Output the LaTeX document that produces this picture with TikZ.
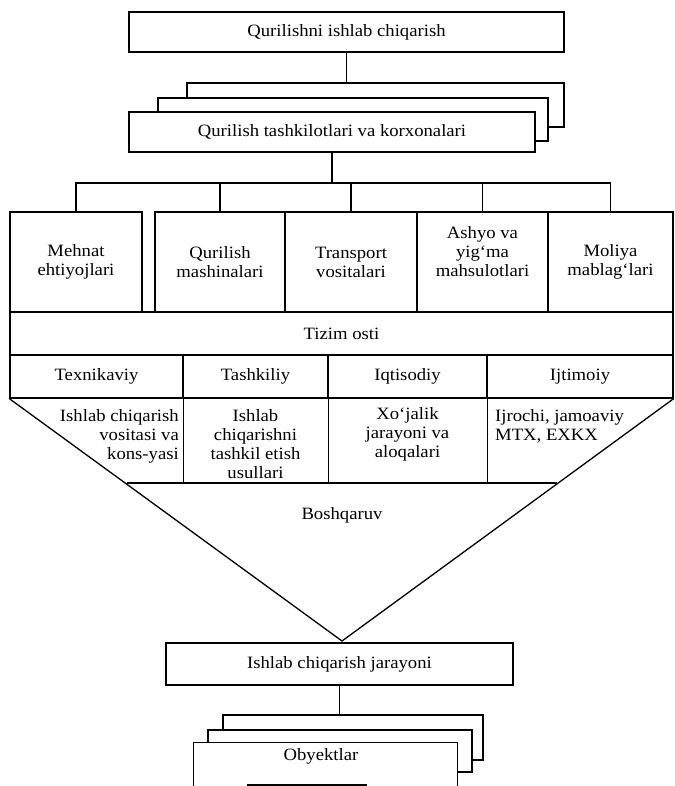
\documentclass[tikz,border=0pt]{standalone}
\usepackage{fontspec}
\setmainfont{Liberation Serif}[FakeStretch=1.08]
\usetikzlibrary{calc}
\begin{document}
\begin{tikzpicture}[x=1pt,y=1pt,
  ln/.style={line width=1.3pt, line join=miter},
  box/.style={draw, ln, fill=white, inner sep=0pt, align=center,
    font=\fontsize{17.3}{19}\selectfont},
  txt/.style={inner sep=0pt, font=\fontsize{17.3}{19}\selectfont},
  rect/.style n args={2}{minimum width=#1pt, minimum height=#2pt}]
\useasboundingbox (0,0) rectangle (674,-786);
% top
\node[box, rect={435}{40}] (top) at (346.5,-32) {Qurilishni ishlab chiqarish};
% organisations stack
\node[box, rect={377}{44}] (org3) at (375.5,-105) {};
\node[box, rect={390}{43}] (org2) at (353,-119.5) {};
\node[box, rect={406}{40}] (org) at (332,-132) {Qurilish tashkilotlari va korxonalari};
\draw[ln] (top.south) -- (top.south |- org3.north);
% resources row
\node[box, rect={132}{100}] (meh) at (76,-262) {Mehnat\\ ehtiyojlari};
\node[box, rect={130}{100}] (qm) at (220,-262) {Qurilish\\ mashinalari};
\node[box, rect={132}{100}] (tr) at (351,-262) {Transport\\ vositalari};
\node[box, rect={131}{100}] (ash) at (482.5,-262) {};
\node[txt, align=center] (ashtxt) at (482.5,-252) {Ashyo va\\ yig‘ma\\ mahsulotlari};
\node[box, rect={125}{100}] (mol) at (610.5,-262) {Moliya\\ mablag‘lari};
\coordinate (bus) at (0,-183);
\draw[ln] (org.south) -- (org.south |- bus);
\draw[ln] (meh.north) -- (meh.north |- bus) -- (mol.north |- bus) -- (mol.north);
\draw[ln] (qm.north) -- (qm.north |- bus);
\draw[ln] (tr.north) -- (tr.north |- bus);
\draw[ln] (ash.north) -- (ash.north |- bus);
% subsystem
\node[box, rect={663}{43}] (tiz) at (341.5,-333.5) {Tizim osti};
\node[box, rect={173}{43}] (tex) at (96.5,-376.5) {Texnikaviy};
\node[box, rect={145}{43}] (tash) at (255.5,-376.5) {Tashkiliy};
\node[box, rect={159}{43}] (iqt) at (407.5,-376.5) {Iqtisodiy};
\node[box, rect={186}{43}] (ijt) at (580,-376.5) {Ijtimoiy};
% management triangle
\node[inner sep=0pt] (apex) at (342,-641) {};
\draw[ln] (tex.south west) -- (apex.center) -- (ijt.south east);
\coordinate (bl) at (127,-483);
\coordinate (br) at (557,-483);
\draw[ln] (bl) -- (br);
\draw[ln] (tex.south east) -- (tex.south east |- bl);
\draw[ln] (tash.south east) -- (tash.south east |- bl);
\draw[ln] (iqt.south east) -- (iqt.south east |- bl);
\node[txt, align=right, anchor=north east] (c1) at (179,-409) {Ishlab chiqarish\\ vositasi va\\ kons-yasi};
\node[txt, align=center, anchor=north] (c2) at (255.5,-409) {Ishlab\\ chiqarishni\\ tashkil etish\\ usullari};
\node[txt, align=center, anchor=north] (c3) at (407.5,-407) {Xo‘jalik\\ jarayoni va\\ aloqalari};
\node[txt, align=left, anchor=north west] (c4) at (495,-409) {Ijrochi, jamoaviy\\ MTX, EXKX};
\node[txt] (bosh) at (342,-515) {Boshqaruv};
% production process
\node[box, rect={347}{42}] (jar) at (339.5,-664) {Ishlab chiqarish jarayoni};
\node[box, rect={260}{45}] (ob3) at (353,-737.5) {};
\node[box, rect={264}{42}] (ob2) at (340,-751) {};
\node[fill=white, inner sep=0pt, rect={263}{44}] (ob) at (325.5,-765) {};
\draw[ln] (ob.south west) -- (ob.north west) -- (ob.north east) -- (ob.south east);
\node[txt] (obtxt) at (321,-756) {Obyektlar};
\draw[ln] (247,-785) -- (367,-785);
\draw[ln] (jar.south) -- (jar.south |- ob3.north);
\end{tikzpicture}
\end{document}
